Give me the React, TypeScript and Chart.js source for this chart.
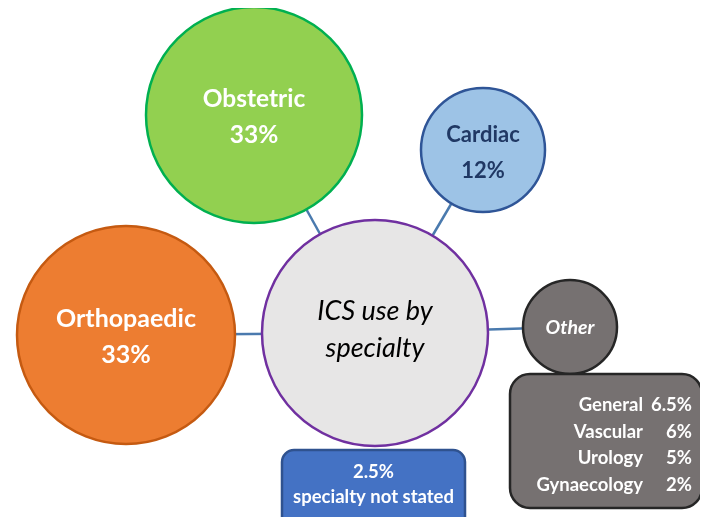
import React, { useEffect, useRef } from "react";
import { Chart, registerables } from "chart.js";
Chart.register(...registerables);

// ---- data ----
const categories = ["Obstetric", "Orthopaedic", "Cardiac", "Other"];
const shares = [33, 33, 12, null];
const centerLabel = ["ICS use by", "specialty"];
const otherLabels = ["General", "Vascular", "Urology", "Gynaecology"];
const otherValues = [6.5, 6, 5, 2];
const notStatedValue = 2.5;
const notStatedLabel = "specialty not stated";

// ---- layout (scale units = page pixels) ----
const nodeX = [254, 126, 483, 570];
const nodeY = [115, 335, 150, 327];
const nodeR = [108, 109, 62, 47];
const hub = { x: 375, y: 333, r: 113 };
const fills = ["#92D050", "#ED7D31", "#9DC3E6", "#767171"];
const borders = ["#00B050", "#C55A11", "#2F5597", "#262626"];
const textColors = ["#FFFFFF", "#FFFFFF", "#203864", "#FFFFFF"];
const labelSizes = [24.5, 25, 22, 19.5];
const otherBox = { x0: 510, y0: 374, x1: 702, y1: 508, r: 20 };
const blueBox = { x0: 282, y0: 450, x1: 465, y1: 535, r: 12 };

const FONT = "Lato, 'Open Sans', sans-serif";

const labelPlugin = {
  id: "diagramLabels",
  afterDatasetsDraw(chart: any) {
    const ctx = chart.ctx as CanvasRenderingContext2D;
    const xs = chart.scales.x;
    const ys = chart.scales.y;
    const px = (v: number) => xs.getPixelForValue(v);
    const py = (v: number) => ys.getPixelForValue(v);
    const txt = (s: string, x: number, y: number, font: string, color: string, align: CanvasTextAlign = "center") => {
      ctx.font = font;
      ctx.fillStyle = color;
      ctx.textAlign = align;
      ctx.textBaseline = "alphabetic";
      ctx.fillText(s, x, y);
    };
    const box = (b: any, fill: string, stroke: string) => {
      ctx.beginPath();
      const x = px(b.x0), y = py(b.y0), w = px(b.x1) - px(b.x0), h = py(b.y1) - py(b.y0);
      (ctx as any).roundRect(x, y, w, h, b.r);
      ctx.fillStyle = fill;
      ctx.fill();
      ctx.lineWidth = 2.5;
      ctx.strokeStyle = stroke;
      ctx.stroke();
    };
    ctx.save();
    const meta = chart.getDatasetMeta(chart.data.datasets.length - 1);
    categories.forEach((c, i) => {
      const el = meta.data[i];
      const size = labelSizes[i];
      if (shares[i] != null) {
        txt(c, el.x, el.y - 8, `bold ${size}px ${FONT}`, textColors[i]);
        txt(`${shares[i]}%`, el.x, el.y + 28, `bold ${size}px ${FONT}`, textColors[i]);
      } else {
        txt(c, el.x, el.y + 7, `italic bold ${size}px ${FONT}`, textColors[i]);
      }
    });
    const h = meta.data[categories.length];
    txt(centerLabel[0], h.x, h.y - 13, `italic 27px ${FONT}`, "#000000");
    txt(centerLabel[1], h.x, h.y + 24, `italic 27px ${FONT}`, "#000000");
    box(otherBox, "#767171", "#262626");
    const rowY = [411, 438, 464, 491];
    otherLabels.forEach((l, i) => {
      txt(l, px(643), py(rowY[i]), `bold 18.5px ${FONT}`, "#FFFFFF", "right");
      txt(`${otherValues[i]}%`, px(692), py(rowY[i]), `bold 18.5px ${FONT}`, "#FFFFFF", "right");
    });
    box(blueBox, "#4472C4", "#2F528F");
    const cx = px((blueBox.x0 + blueBox.x1) / 2);
    txt(`${notStatedValue}%`, cx, py(478), `bold 18.5px ${FONT}`, "#FFFFFF");
    txt(notStatedLabel, cx, py(503), `bold 18.5px ${FONT}`, "#FFFFFF");
    ctx.restore();
  },
};

export default function App() {
  const ref = useRef<HTMLCanvasElement | null>(null);
  useEffect(() => {
    if (!ref.current) return;
    const bubbleData = categories.map((_, i) => ({ x: nodeX[i], y: nodeY[i], r: nodeR[i] }));
    bubbleData.push({ x: hub.x, y: hub.y, r: hub.r });
    const lineSets = categories.map((_, i) => ({
      type: "line" as const,
      data: [
        { x: nodeX[i], y: nodeY[i] },
        { x: hub.x, y: hub.y },
      ],
      borderColor: "#4A7AAE",
      borderWidth: 2.5,
      pointRadius: 0,
      fill: false,
      order: 5,
    }));
    const chart = new Chart(ref.current, {
      type: "bubble",
      data: {
        datasets: [
          ...(lineSets as any[]),
          {
            type: "bubble",
            data: bubbleData,
            backgroundColor: [...fills, "#E7E6E6"],
            borderColor: [...borders, "#7030A0"],
            borderWidth: 2.5,
            hoverBorderWidth: 2.5,
            order: 1,
            clip: false,
          } as any,
        ],
      },
      options: {
        animation: false,
        responsive: true,
        maintainAspectRatio: false,
        events: [],
        layout: { padding: 0, autoPadding: false },
        plugins: { legend: { display: false }, tooltip: { enabled: false } },
        scales: {
          x: { type: "linear", min: 8, max: 700, display: false },
          y: { type: "linear", min: 8, max: 517, reverse: true, display: false },
        },
      },
      plugins: [labelPlugin],
    });
    return () => chart.destroy();
  }, []);
  return (
    <div style={{ width: 692, height: 509, position: "relative" }}>
      <style>{"html,body{overflow:hidden}"}</style>
      <canvas ref={ref} />
    </div>
  );
}
